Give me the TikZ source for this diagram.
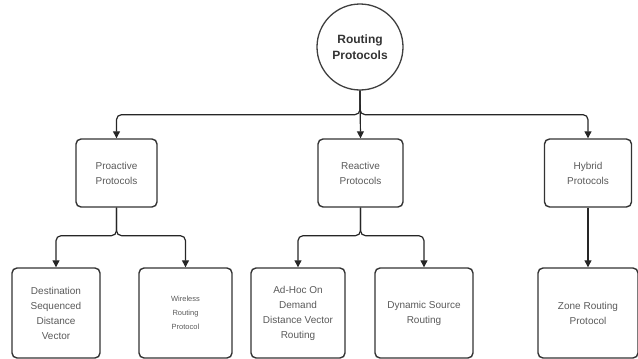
\documentclass[tikz,border=0pt]{standalone}
\usepackage{fontspec}
\setmainfont{Liberation Sans}
\usepackage{xcolor}
\usetikzlibrary{shapes,arrows,arrows.meta,positioning,fit,calc}

\tikzset{
    box/.style={rectangle, draw=black!80, rounded corners=5pt, line width=1.4pt,
        align=center, text=black!65, font=\fontsize{10}{15}\selectfont},
    conn/.style={->, draw=black!85, line width=1.2pt, rounded corners=5pt}
}

\begin{document}
\begin{tikzpicture}[x=1pt, y=-1pt, >={Triangle[length=7pt,width=7pt]}]
    \useasboundingbox (0,0) rectangle (638,359);

    \node (root) [circle, draw=black!75, line width=1.3pt, minimum size=86pt, inner sep=0pt,
        align=center, text=black!80, font=\fontsize{12}{16}\selectfont\bfseries] at (360,47) {Routing\\Protocols};

    \node (pro) [box, minimum width=81pt, minimum height=68pt] at (116.5,173) {Proactive\\Protocols};
    \node (react) [box, minimum width=85pt, minimum height=68pt] at (360.5,173) {Reactive\\Protocols};
    \node (hyb) [box, minimum width=87pt, minimum height=68pt] at (588,173) {Hybrid\\Protocols};

    \node (dsdv) [box, minimum width=88pt, minimum height=90pt] at (56,313) {Destination\\Sequenced\\Distance\\Vector};
    \node (wrp) [box, minimum width=93pt, minimum height=90pt, font=\fontsize{7.5}{14}\selectfont] at (185.5,313) {Wireless\\Routing\\Protocol};
    \node (aodv) [box, minimum width=94pt, minimum height=90pt] at (298,313) {Ad-Hoc On\\Demand\\Distance Vector\\Routing};
    \node (dsr) [box, minimum width=98pt, minimum height=90pt] at (424,313) {Dynamic Source\\Routing};
    \node (zrp) [box, minimum width=100pt, minimum height=90pt] at (588,313) {Zone Routing\\Protocol};

    \draw [conn] (root.south) -- ++(0,24) -| (pro.north);
    \draw [conn] (root.south) -- (react.north);
    \draw [conn] (root.south) -- ++(0,24) -| (hyb.north);

    \draw [conn] (pro.south) -- ++(0,28) -| (dsdv.north);
    \draw [conn] (pro.south) -- ++(0,28) -| (wrp.north);
    \draw [conn] (react.south) -- ++(0,28) -| (aodv.north);
    \draw [conn] (react.south) -- ++(0,28) -| (dsr.north);
    \draw [conn] (hyb.south) -- (zrp.north);
\end{tikzpicture}
\end{document}
